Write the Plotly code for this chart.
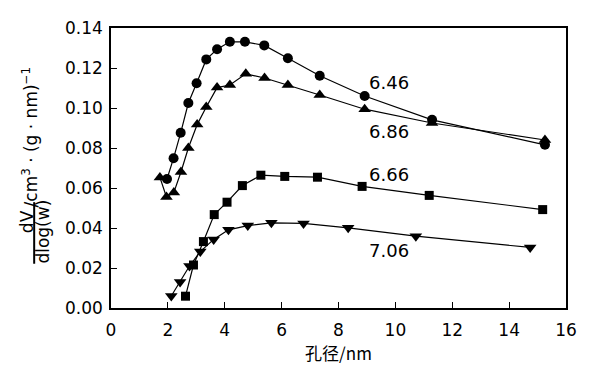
import plotly.graph_objects as go

# series: pH label -> pore diameter (nm), dV/dlog(w)
x_646 = [1.97, 2.20, 2.45, 2.72, 3.01, 3.35, 3.73, 4.18, 4.71, 5.39, 6.22, 7.34, 8.92, 11.29, 15.26]
y_646 = [0.0645, 0.0749, 0.0876, 0.1025, 0.1124, 0.1243, 0.1294, 0.1331, 0.1331, 0.1313, 0.1249, 0.1161, 0.1060, 0.0941, 0.0816]

x_686 = [1.72, 1.95, 2.21, 2.46, 2.72, 3.03, 3.35, 3.73, 4.18, 4.74, 5.40, 6.22, 7.34, 8.92, 11.29, 15.26]
y_686 = [0.0653, 0.0555, 0.0578, 0.0680, 0.0800, 0.0917, 0.1005, 0.1102, 0.1115, 0.1171, 0.1150, 0.1115, 0.1065, 0.0994, 0.0925, 0.0840]

x_666 = [2.62, 2.90, 3.25, 3.63, 4.08, 4.62, 5.27, 6.11, 7.26, 8.83, 11.19, 15.18]
y_666 = [0.0059, 0.0215, 0.0332, 0.0467, 0.0529, 0.0612, 0.0664, 0.0658, 0.0654, 0.0608, 0.0563, 0.0492]

x_706 = [2.12, 2.43, 2.76, 3.14, 3.61, 4.13, 4.81, 5.64, 6.77, 8.34, 10.72, 14.74]
y_706 = [0.0060, 0.0130, 0.0210, 0.0282, 0.0343, 0.0391, 0.0412, 0.0426, 0.0423, 0.0401, 0.0359, 0.0303]

labels = ["6.46", "6.86", "6.66", "7.06"]
label_x = [9.78, 9.78, 9.78, 9.78]
label_y = [0.1126, 0.0885, 0.0669, 0.0289]

x_ticks = [0, 2, 4, 6, 8, 10, 12, 14, 16]
y_ticks = [0.00, 0.02, 0.04, 0.06, 0.08, 0.10, 0.12, 0.14]

OFF = 8  # page body margin
W, H = 595 - 2 * OFF, 376 - 2 * OFF
ML, MT = 111 - OFF, 18 - OFF
MR, MB = 25 - OFF, 67 - OFF
PW, PH = W - ML - MR, H - MT - MB

def px(xs):
    # screen pixel -> paper x
    return (xs - OFF - ML) / PW

def py(ys):
    return 1 - (ys - OFF - MT) / PH

fig = go.Figure()
series = [
    (x_646, y_646, "circle", 10),
    (x_686, y_686, "triangle-up", 11),
    (x_666, y_666, "square", 9),
    (x_706, y_706, "triangle-down", 11),
]
for xs, ys, sym, sz in series:
    fig.add_trace(go.Scatter(
        x=xs, y=ys, mode="lines+markers",
        line=dict(color="black", width=1.2),
        marker=dict(symbol=sym, size=sz, color="black"),
        showlegend=False, cliponaxis=False,
    ))

for t, lx, ly in zip(labels, label_x, label_y):
    fig.add_annotation(x=lx, y=ly, text=t, showarrow=False,
                       font=dict(family="DejaVu Sans", size=18, color="black"))

# y-axis title as rotated fraction
tf = dict(family="DejaVu Sans", size=17, color="black")
fig.add_annotation(xref="paper", yref="paper", x=px(27), y=py(219), text="dV",
                   xanchor="center", yanchor="middle",
                   textangle=-90, showarrow=False, font=tf)
fig.add_annotation(xref="paper", yref="paper", x=px(42), y=py(230), text="dlog(w)",
                   xanchor="center", yanchor="middle",
                   textangle=-90, showarrow=False, font=tf)
fig.add_shape(type="line", xref="paper", yref="paper",
              x0=px(33.5), x1=px(33.5), y0=py(199), y1=py(263),
              line=dict(color="black", width=2))
fig.add_annotation(xref="paper", yref="paper", x=px(29), y=py(131),
                   xanchor="center", yanchor="middle",
                   text="/cm<sup>3</sup> · (g · nm)<sup>−1</sup>",
                   textangle=-90, showarrow=False, font=tf)

axis_common = dict(
    showline=True, linecolor="black", linewidth=1.5, mirror=True,
    ticks="inside", ticklen=6, tickwidth=1.2, tickcolor="black",
    showgrid=False, zeroline=False,
    tickfont=dict(family="DejaVu Sans", size=17, color="black"),
)
fig.update_xaxes(range=[0, 16], tickvals=x_ticks, ticktext=[str(v) for v in x_ticks],
                 ticklabelstandoff=6,
                 title=dict(text="孔径/nm", font=dict(family="Noto Sans CJK SC", size=17, color="black"),
                            standoff=6),
                 **axis_common)
fig.update_yaxes(range=[0, 0.14], tickvals=y_ticks, ticktext=[f"{v:.2f}" for v in y_ticks],
                 ticklabelstandoff=3,
                 **axis_common)

fig.update_layout(
    width=W, height=H,
    margin=dict(l=ML, r=MR, t=MT, b=MB),
    paper_bgcolor="white", plot_bgcolor="white",
)
fig.write_html("out.html")
